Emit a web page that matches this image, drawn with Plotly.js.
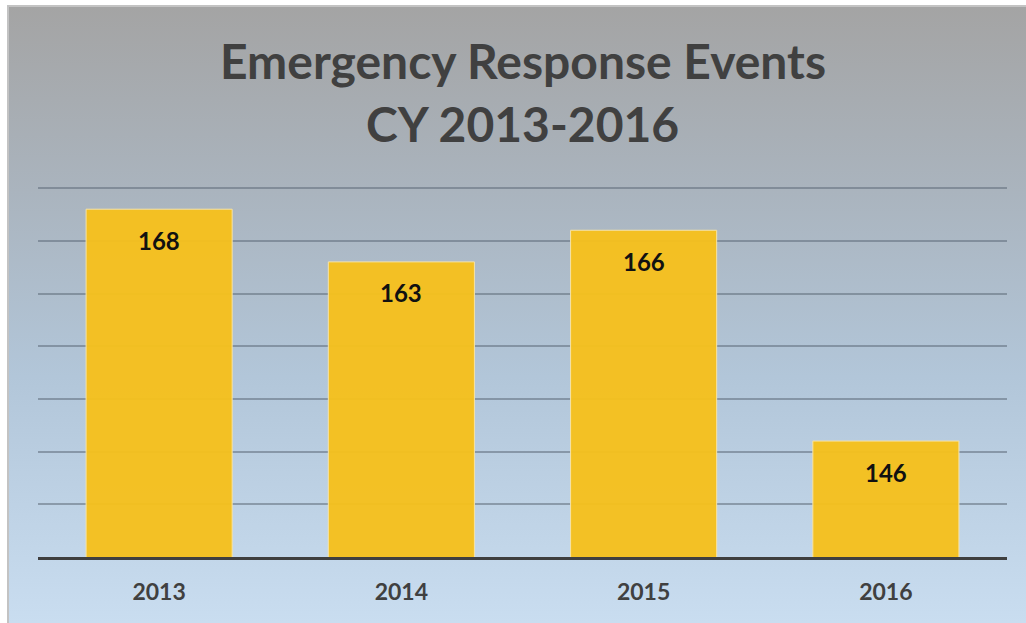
<!DOCTYPE html>
<html>
<head>
<meta charset="utf-8">
<script src="https://cdn.plot.ly/plotly-3.0.1.min.js"></script>
<style>
  html, body { margin: 0; padding: 0; background: #ffffff; }
  #bg { position: absolute; left: 7px; top: 5px; width: 1019px; height: 618px;
        box-sizing: border-box; border-left: 2px solid #c3c3c3; border-top: 2px solid #c3c3c3;
        background: linear-gradient(to bottom, #a4a4a4 0%, #aab4be 30%, #b2c6d9 60%, #c9ddf0 100%); }
  #chart { position: absolute; left: 0; top: 0; width: 1026px; height: 623px; }
</style>
</head>
<body>
<div id="bg"></div>
<div id="chart"></div>
<script>
const years = ["2013", "2014", "2015", "2016"];
const events = [168, 163, 166, 146];
const titleLines = ["Emergency Response Events", "CY 2013-2016"];

const FONT = "Lato, 'Open Sans', sans-serif";

const trace = {
  type: "bar",
  x: years,
  y: events,
  marker: { color: "rgba(245,192,30,0.97)", line: { color: "#f6e3a6", width: 1 } },
  hoverinfo: "x+y"
};

const annotations = years.map((yr, i) => ({
  x: i, y: events[i], xref: "x", yref: "y",
  text: String(events[i]), showarrow: false,
  yanchor: "middle", yshift: -31,
  font: { family: FONT, size: 24, color: "#111111", weight: "bold" }
}));

annotations.push({
  xref: "paper", yref: "paper", x: 0.5, y: 1, yanchor: "middle",
  yshift: 186 - 60, xshift: 0,
  text: titleLines[0], showarrow: false,
  font: { family: FONT, size: 48, color: "#404040", weight: "bold" }
});
annotations.push({
  xref: "paper", yref: "paper", x: 0.5, y: 1, yanchor: "middle",
  yshift: 186 - 123, xshift: 0,
  text: titleLines[1], showarrow: false,
  font: { family: FONT, size: 48, color: "#404040", weight: "bold" }
});

const layout = {
  width: 1026, height: 623,
  margin: { l: 38, r: 19, t: 186, b: 66 },
  paper_bgcolor: "rgba(0,0,0,0)",
  plot_bgcolor: "rgba(0,0,0,0)",
  showlegend: false,
  bargap: 0.397,
  xaxis: {
    type: "category",
    range: [-0.5, 3.5],
    showgrid: false,
    showline: true, linecolor: "#3f3f3f", linewidth: 3,
    ticks: "", ticklen: 0,
    ticklabelstandoff: 12,
    tickfont: { family: FONT, size: 23, color: "#404040", weight: "bold" },
    automargin: false
  },
  yaxis: {
    range: [135, 170.2],
    dtick: 5, tick0: 135,
    showticklabels: false,
    showgrid: true, gridcolor: "rgba(95,108,122,0.55)", gridwidth: 2,
    zeroline: false, showline: false, ticks: "",
    automargin: false
  },
  annotations: annotations
};

Plotly.newPlot("chart", [trace], layout, { displayModeBar: false, staticPlot: true });
</script>
</body>
</html>
